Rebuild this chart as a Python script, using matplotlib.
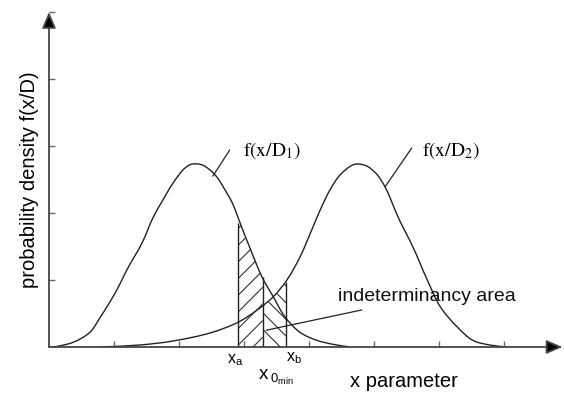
import numpy as np
import matplotlib
matplotlib.use("Agg")
import matplotlib.pyplot as plt
from matplotlib.path import Path
from matplotlib.patches import PathPatch

plt.rcParams['font.family'] = ['Liberation Sans', 'DejaVu Sans']
plt.rcParams['mathtext.fontset'] = 'custom'
plt.rcParams['mathtext.rm'] = 'Liberation Sans'
plt.rcParams['mathtext.it'] = 'Liberation Sans'
plt.rcParams['mathtext.bf'] = 'Liberation Sans:bold'
plt.rcParams['hatch.linewidth'] = 0.8

# ---- data ----
c1_x = [0.0, 0.06, 0.37, 0.63, 0.78, 1.02, 1.22, 1.43, 1.60, 1.75, 1.91, 2.09, 2.20, 2.35,
        2.48, 2.58, 2.68, 2.82, 2.94, 3.09, 3.28, 3.45, 3.63, 3.86, 4.12, 4.37, 4.63]
c1_y = [0.0, 0.0, 0.07, 0.22, 0.43, 0.81, 1.19, 1.55, 1.93, 2.19, 2.45, 2.67, 2.73, 2.72,
        2.64, 2.54, 2.39, 2.15, 1.85, 1.48, 1.04, 0.75, 0.45, 0.22, 0.10, 0.04, 0.0]

c2_x = [0.78, 1.40, 1.91, 2.48, 2.91, 3.20, 3.45, 3.66, 3.86, 4.06, 4.17, 4.32, 4.48, 4.68,
        4.78, 4.91, 5.05, 5.17, 5.25, 5.37, 5.60, 5.82, 6.02, 6.28, 6.52, 6.78, 7.05]
c2_y = [0.0, 0.03, 0.09, 0.21, 0.37, 0.55, 0.75, 1.00, 1.34, 1.79, 2.04, 2.34, 2.57, 2.72,
        2.73, 2.69, 2.57, 2.39, 2.22, 1.94, 1.49, 1.00, 0.60, 0.30, 0.10, 0.03, 0.0]

x_a, x_0, x_b = 2.91, 3.29, 3.65
h_a, h_0, h_b = 1.85, 1.04, 0.97

x_ticks = [1, 2, 3, 4, 5, 6, 7]
y_ticks = [1, 2, 3, 4, 5]


def smooth_path(xs, ys, alpha=0.5):
    """Centripetal Catmull-Rom curve through the points, as cubic Bezier segments."""
    p = np.column_stack([xs, ys]).astype(float)
    n = len(p)
    d = np.linalg.norm(np.diff(p, axis=0), axis=1) ** alpha
    d[d == 0] = 1e-6
    t = np.concatenate([[0], np.cumsum(d)])
    m = np.zeros_like(p)
    m[0] = (p[1] - p[0]) / (t[1] - t[0])
    m[-1] = (p[-1] - p[-2]) / (t[-1] - t[-2])
    for i in range(1, n - 1):
        m[i] = ((p[i] - p[i-1]) / (t[i] - t[i-1]) - (p[i+1] - p[i-1]) / (t[i+1] - t[i-1])
                + (p[i+1] - p[i]) / (t[i+1] - t[i]))
    verts = [tuple(p[0])]
    codes = [Path.MOVETO]
    for i in range(n - 1):
        h = t[i+1] - t[i]
        c1 = p[i] + m[i] * h / 3.0
        c2 = p[i+1] - m[i+1] * h / 3.0
        verts += [tuple(c1), tuple(c2), tuple(p[i+1])]
        codes += [Path.CURVE4] * 3
    return Path(verts, codes)


# ---- figure ----
fig = plt.figure(figsize=(5.64, 3.94), dpi=100)
ax = fig.add_axes([49/564, 47/394, (562.5-49)/564, 335/394])
ax.set_xlim(0, 7.9)
ax.set_ylim(0, 5.0)
for s in ax.spines.values():
    s.set_visible(False)

line_col = '#222222'
ax.add_patch(PathPatch(smooth_path(c1_x, c1_y), fill=False, ec=line_col, lw=1.0))
ax.add_patch(PathPatch(smooth_path(c2_x, c2_y), fill=False, ec=line_col, lw=1.0))

# hatched areas
c1x = np.array(c1_x); c1y = np.array(c1_y)
m = (c1x > x_a) & (c1x < x_0)
fx = np.concatenate([[x_a], c1x[m], [x_0]])
fy = np.concatenate([[h_a], c1y[m], [h_0]])
ax.fill_between(fx, 0, fy, facecolor='none', edgecolor='#333333', hatch='//', lw=0)
c2x = np.array(c2_x); c2y = np.array(c2_y)
m2 = (c2x > x_0) & (c2x < x_b)
gx = np.concatenate([[x_0], c2x[m2], [x_b]])
gy = np.concatenate([[0.62], c2y[m2], [h_b]])
ax.fill_between(gx, 0, gy, facecolor='none', edgecolor='#333333', hatch='\\\\', lw=0)

ax.vlines([x_a, x_0, x_b], 0, [h_a, h_0, h_b], color=line_col, lw=1.0)

# axes with arrows
axis_col = '#444444'
for end in [(7.9, 0), (0, 5.0)]:
    ax.annotate('', xy=end, xytext=(0, 0),
                arrowprops=dict(arrowstyle='-|>,head_length=0.7,head_width=0.3',
                                fc='black', ec=axis_col, lw=1.3, mutation_scale=14,
                                shrinkA=0, shrinkB=0), annotation_clip=False)

ax.set_xticks(x_ticks)
ax.set_yticks(y_ticks)
ax.set_xticklabels([])
ax.set_yticklabels([])
ax.tick_params(direction='in', length=4, width=1, color='#666666')

# labels
ax.annotate('', xy=(2.52, 2.55), xytext=(2.78, 2.94),
            arrowprops=dict(arrowstyle='-', color=line_col, lw=0.9, shrinkA=0, shrinkB=0))
ax.text(2.98, 2.93, r'$\mathrm{f(x/D_1)}$', fontsize=14, math_fontfamily='stix',
        ha='left', va='center')
ax.annotate('', xy=(5.17, 2.39), xytext=(5.58, 2.97),
            arrowprops=dict(arrowstyle='-', color=line_col, lw=0.9, shrinkA=0, shrinkB=0))
ax.text(5.74, 2.93, r'$\mathrm{f(x/D_2)}$', fontsize=14, math_fontfamily='stix',
        ha='left', va='center')
ax.annotate('indeterminancy area', xy=(3.34, 0.25), xytext=(4.45, 0.76),
            fontsize=14, ha='left', va='center', color='#111111',
            arrowprops=dict(arrowstyle='-', color=line_col, lw=0.9, shrinkA=9, shrinkB=0))

ax.text(x_a - 0.05, -0.2, r'$x_a$', fontsize=11.5, ha='center', va='center',
        math_fontfamily='custom', clip_on=False)
ax.text(x_0 + 0.2, -0.45, r'$x_{\;0_{min}}$', fontsize=13.5, ha='center', va='center',
        math_fontfamily='custom', clip_on=False)
ax.text(x_b + 0.12, -0.17, r'$x_b$', fontsize=11.5, ha='center', va='center',
        math_fontfamily='custom', clip_on=False)

ax.text(5.46, -0.52, 'x parameter', fontsize=14.5, ha='center', va='center', clip_on=False)
fig.text(30/564, 1 - 180/394, 'probability density f(x/D)', fontsize=14.5,
         rotation=90, ha='center', va='center')

fig.savefig('out.png', dpi=100)
